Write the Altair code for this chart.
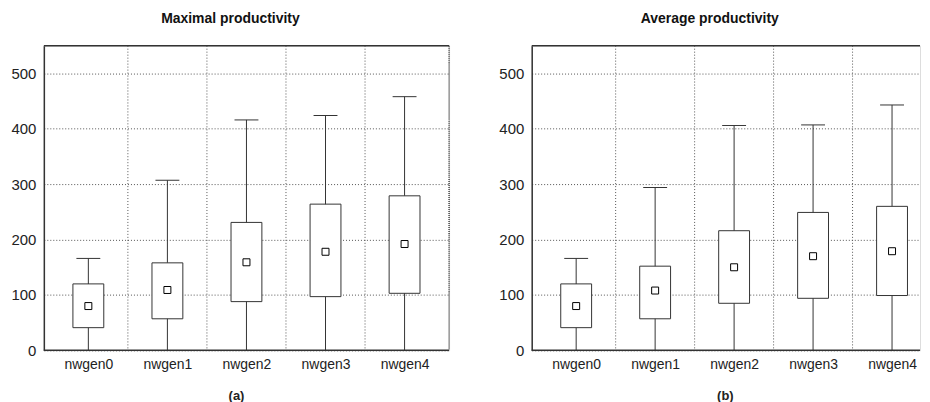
import altair as alt
import pandas as pd

categories = ["nwgen0", "nwgen1", "nwgen2", "nwgen3", "nwgen4"]

# Panel (a): Maximal productivity
max_low = [0, 0, 0, 0, 0]
max_q1 = [41, 57, 88, 97, 103]
max_q3 = [120, 158, 231, 264, 279]
max_high = [166, 307, 416, 424, 458]
max_mean = [80, 109, 159, 178, 192]

# Panel (b): Average productivity
avg_low = [0, 0, 0, 0, 0]
avg_q1 = [41, 57, 85, 94, 99]
avg_q3 = [120, 152, 216, 249, 260]
avg_high = [166, 294, 406, 407, 443]
avg_mean = [80, 108, 150, 170, 179]

y_ticks = [0, 100, 200, 300, 400, 500]

FONT = "Liberation Sans"
H = 306
STEP = 407 / 5
LINE = "#333333"
N = len(categories)

label_expr = "[" + ",".join("'%s'" % c for c in categories) + "][datum.value]"


def panel(title, sub, low, q1, q3, high, mean, width, right_border, sub_x):
    df = pd.DataFrame({"cat": categories, "idx": list(range(N)), "low": low, "q1": q1,
                       "q3": q3, "high": high, "mean": mean})
    one = pd.DataFrame({"k": [0]})
    # category slots of equal width; the right panel is cut off by the picture edge
    xscale = alt.Scale(domain=[-0.5, -0.5 + width / STEP], nice=False, zero=False)
    xaxis = alt.Axis(title=sub, values=list(range(N)), labelExpr=label_expr,
                     grid=False, domain=False, ticks=False, labelAngle=0,
                     labelFont=FONT, labelFontSize=14, labelColor="#222222", labelPadding=7,
                     titleFont=FONT, titleFontSize=13, titleFontWeight="bold",
                     titleColor="#222222", titlePadding=18, titleX=sub_x, labelFlush=False)
    yscale = alt.Scale(domain=[0, 550], nice=False, zero=True)
    yaxis = alt.Axis(title=None, values=y_ticks, grid=True, gridDash=[1, 2], gridColor="#555555",
                     gridWidth=1, ticks=False, domain=True, domainColor=LINE, domainWidth=1.5,
                     labelFont=FONT, labelFontSize=15, labelColor="#222222", labelPadding=8)

    def X(f="idx"):
        return alt.X(f + ":Q", scale=xscale, axis=xaxis)

    def Y(f):
        return alt.Y(f + ":Q", scale=yscale, axis=yaxis)

    vgrid = alt.Chart(df).transform_filter(alt.datum.idx < N - 1).transform_calculate(
        b="datum.idx + 0.5").mark_rule(
        strokeDash=[1, 2], color="#555555", strokeWidth=1).encode(x=X("b"))
    whisker = alt.Chart(df).mark_rule(color=LINE, strokeWidth=1).encode(
        x=X(), y=Y("low"), y2=alt.Y2("high"))
    cap = alt.Chart(df).mark_tick(color=LINE, size=24, thickness=1, opacity=1,
                                  orient="horizontal").encode(x=X(), y=Y("high"))
    box = alt.Chart(df).mark_bar(fill="white", stroke=LINE, strokeWidth=1, size=31,
                                 orient="vertical").encode(x=X(), y=Y("q1"), y2=alt.Y2("q3"))
    meanpt = alt.Chart(df).mark_point(shape="square", size=49, filled=True, fill="white",
                                      stroke="black", strokeWidth=1, opacity=1).encode(
        x=X(), y=Y("mean"))
    top = alt.Chart(one).mark_rule(color=LINE, strokeWidth=1.5).encode(
        x=alt.value(0), x2=alt.value(width), y=alt.value(0))
    bottom = alt.Chart(one).mark_rule(color=LINE, strokeWidth=1.5).encode(
        x=alt.value(0), x2=alt.value(width), y=alt.value(H))
    layers = [vgrid, whisker, cap, box, meanpt, top, bottom]
    if right_border:
        rb = alt.Chart(one).mark_rule(color="#444444", strokeWidth=1.5, strokeDash=[1, 1]).encode(
            x=alt.value(width), y=alt.value(0), y2=alt.value(H))
        layers.append(rb)
    return alt.layer(*layers).properties(
        width=width, height=H,
        title=alt.TitleParams(title, font=FONT, fontSize=14, fontWeight="bold",
                              color="#111111", offset=19, anchor="middle", frame="bounds"))


left = panel("Maximal productivity", "(a)", max_low, max_q1, max_q3, max_high, max_mean,
             407, True, 193)
right = panel("Average productivity", "(b)", avg_low, avg_q1, avg_q3, avg_high, avg_mean,
              390, False, 194)

chart = alt.hconcat(left, right, spacing=47).properties(
    padding={"left": 2, "top": 2, "right": 0, "bottom": 0}
).configure_view(stroke=None).configure(background="white")

chart.save("out.html", embed_options={"renderer": "svg", "actions": False})
